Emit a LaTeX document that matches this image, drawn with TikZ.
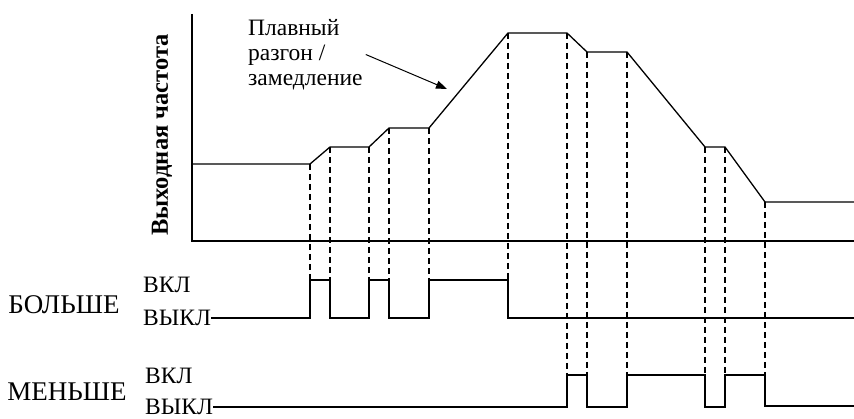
\documentclass[tikz,border=0pt]{standalone}
\usepackage{fontspec}
\setmainfont{Liberation Serif}
\usetikzlibrary{arrows.meta,positioning}

\begin{document}
\begin{tikzpicture}[x=1pt, y=-1pt,
  every node/.style={font=\fontsize{23.5}{25}\selectfont, inner sep=0pt},
  big/.style={font=\fontsize{27}{30}\selectfont},
  sig/.style={line width=1.3pt},
  guide/.style={line width=1.3pt, dash pattern=on 6pt off 4pt},
  arr/.style={-{Triangle[length=11pt,width=8pt]}, line width=1pt},
]
\useasboundingbox (0,0) rectangle (854,419);
\draw[line width=1.6pt] (192,14) -- (192,241) -- (854,241);
\node[rotate=90, font=\fontsize{24.5}{28}\selectfont\bfseries] (ylab) at (162,135)
  {Выходная частота};

\draw[sig] (192,164) -- (310,164) -- (330,147) -- (369,147) -- (389,128)
  -- (429,128) -- (508,33) -- (567,33) -- (587,52) -- (627,52)
  -- (705,147) -- (725,147) -- (765,202) -- (854,202);

\node[align=left, anchor=north west] (note) at (248,19)
  {Плавный\\разгон /\\замедление};
\coordinate (ramp) at (447,89);
\draw[arr] ([xshift=3pt]note.east) -- (ramp);

\node[big] (more) at (64,305) {БОЛЬШЕ};
\node[anchor=west] (onA) at (143,285) {ВКЛ};
\node[anchor=west] (offA) at (143,318) {ВЫКЛ};
\draw[sig] (offA.east) -- (310,318) -- (310,280) -- (330,280) -- (330,318)
  -- (369,318) -- (369,280) -- (389,280) -- (389,318) -- (429,318)
  -- (429,280) -- (508,280) -- (508,318) -- (854,318);

\node[big] (less) at (67,392) {МЕНЬШЕ};
\node[anchor=west] (onB) at (145,376) {ВКЛ};
\node[anchor=west] (offB) at (145,407) {ВЫКЛ};
\draw[sig] (offB.east) -- (567,407) -- (567,375) -- (587,375) -- (587,407)
  -- (627,407) -- (627,375) -- (705,375) -- (705,407) -- (725,407)
  -- (725,375) -- (765,375) -- (765,406) -- (854,406);

\foreach \x/\t in {310/164,330/147,369/147,389/128,429/128,508/33}
  \draw[guide] (\x,\t) -- (\x,280);
\foreach \x/\t in {567/33,587/52,627/52,705/147,725/147,765/202}
  \draw[guide] (\x,\t) -- (\x,375);
\end{tikzpicture}
\end{document}
